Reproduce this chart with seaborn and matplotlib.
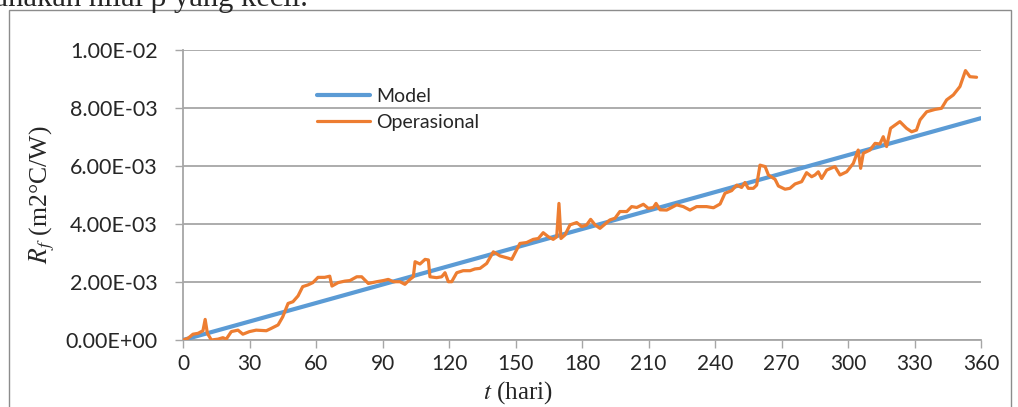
import matplotlib
matplotlib.use("Agg")
import matplotlib.pyplot as plt
import matplotlib.patches as mpatches
from matplotlib.ticker import FuncFormatter
import seaborn as sns
import pandas as pd

# ---- data ----
model_days = [0, 360]
model_rf = [0.0, 7.65e-3]

op_days = [0, 2.3, 4.5, 6.8, 9, 10, 11, 12.8, 15.8, 18, 19.5, 21.8, 24.8, 27, 30, 33, 37.6, 39.8,
           42.9, 45, 47.4, 49.6, 51.9, 54, 56.4, 58.6, 60.9, 63.9, 66.2, 67.2, 70, 73, 75.3, 78.4,
           80.6, 83.6, 87.4, 90.4, 92.6, 94.9, 97.9, 100.1, 102.4, 103.9, 104.7, 106.9, 109.2,
           110.7, 111.4, 114.4, 116.7, 118.2, 119.7, 121.2, 123.5, 126.4, 129.5, 131.7, 134, 137,
           140, 143, 146.8, 148.3, 152, 155, 158, 160.3, 162.5, 164.8, 167, 168.6, 169.6, 170.5,
           172.3, 174.6, 177.6, 179.9, 182.1, 183.9, 185.9, 188.1, 190.4, 192.6, 194.9, 197.1,
           200.2, 202.4, 204.7, 207.7, 209.9, 212.2, 213.4, 215.2, 218.2, 222.7, 225.7, 228.7,
           231.7, 236.2, 239.3, 242.3, 244.5, 247.5, 249.8, 252, 253.5, 255, 257.3, 258.8, 260.3,
           262.6, 264.1, 267.1, 268.6, 271.6, 273.8, 276.1, 279.1, 281.3, 283.6, 285.1, 286.6,
           288.1, 290.4, 294.1, 296.4, 299.4, 302.4, 304.6, 305.7, 306.9, 309.9, 312.2, 314.4,
           315.9, 317.4, 319.2, 321.2, 323.4, 326.4, 328.7, 330.9, 332.5, 335.5, 339.2, 342.2,
           344.5, 347.5, 350.5, 353, 355, 358]
op_rf_e3 = [0.0, 0.06, 0.2, 0.23, 0.32, 0.71, 0.23, 0.0, 0.03, 0.08, 0.03, 0.29, 0.34, 0.2, 0.29,
            0.34, 0.32, 0.4, 0.52, 0.8, 1.26, 1.32, 1.52, 1.84, 1.9, 1.98, 2.16, 2.16, 2.2, 1.86,
            1.98, 2.03, 2.05, 2.18, 2.18, 1.95, 2.01, 2.05, 2.09, 2.01, 2.01, 1.92, 2.09, 2.18,
            2.7, 2.62, 2.78, 2.76, 2.18, 2.15, 2.18, 2.32, 2.01, 2.01, 2.32, 2.39, 2.39, 2.45,
            2.47, 2.64, 3.04, 2.9, 2.82, 2.78, 3.33, 3.36, 3.47, 3.5, 3.7, 3.56, 3.47, 3.56, 4.71,
            3.5, 3.62, 3.97, 4.05, 3.91, 3.97, 4.16, 3.97, 3.85, 4.0, 4.14, 4.2, 4.43, 4.43, 4.6,
            4.57, 4.68, 4.54, 4.57, 4.71, 4.49, 4.48, 4.66, 4.6, 4.48, 4.6, 4.6, 4.56, 4.69, 5.06,
            5.15, 5.34, 5.26, 5.43, 5.23, 5.23, 5.34, 6.03, 5.98, 5.69, 5.54, 5.31, 5.2, 5.23,
            5.38, 5.46, 5.77, 5.63, 5.69, 5.8, 5.57, 5.86, 5.98, 5.69, 5.8, 6.09, 6.55, 5.92, 6.44,
            6.55, 6.78, 6.76, 7.01, 6.67, 7.3, 7.41, 7.53, 7.3, 7.18, 7.24, 7.59, 7.87, 7.95, 7.99,
            8.28, 8.45, 8.74, 9.29, 9.08, 9.06]
op_rf = [v * 1e-3 for v in op_rf_e3]

x_ticks = list(range(0, 361, 30))
y_ticks = [0, 2e-3, 4e-3, 6e-3, 8e-3, 1e-2]

sns.set_style("white")
plt.rcParams["font.family"] = ["Lato", "DejaVu Sans"]
plt.rcParams["mathtext.fontset"] = "stix"

fig = plt.figure(figsize=(10.18, 4.07), dpi=100)
ax = fig.add_axes([183 / 1018, 1 - 340 / 407, (981 - 183) / 1018, (340 - 50) / 407])

# outer frame
fig.patches.append(mpatches.Rectangle((9 / 1018, -0.05), (1011 - 9) / 1018, 1 - 10 / 407 + 0.05,
                                      transform=fig.transFigure, fill=False,
                                      edgecolor="#8c8c8c", linewidth=1.0))

# caption text from the page above the chart (cut off at the top, as in the source)
fig.text(308 / 1018, 1 - 6 / 407, "menggunakan nilai β yang kecil.", ha="right", va="baseline",
         fontsize=22, family="Liberation Serif")

grid_c = "#a6a6a6"
for yv in y_ticks:
    ax.axhline(yv, color=grid_c, linewidth=1.3, zorder=0)

df_model = pd.DataFrame({"t": model_days, "Rf": model_rf})
df_op = pd.DataFrame({"t": op_days, "Rf": op_rf})
sns.lineplot(data=df_model, x="t", y="Rf", ax=ax, color="#5b9bd5", linewidth=3.0,
             label="Model", estimator=None, zorder=3)
sns.lineplot(data=df_op, x="t", y="Rf", ax=ax, color="#ed7d31", linewidth=2.3,
             label="Operasional", estimator=None, sort=False, zorder=4)

ax.set_xlim(0, 360)
ax.set_ylim(0, 0.01)
ax.set_xticks(x_ticks)
ax.set_yticks(y_ticks)
ax.yaxis.set_major_formatter(FuncFormatter(lambda v, p: f"{v:.2E}"))

for s in ["top", "right"]:
    ax.spines[s].set_visible(False)
ax.spines["left"].set_color(grid_c)
ax.spines["bottom"].set_color(grid_c)
ax.spines["left"].set_linewidth(1.3)
ax.spines["bottom"].set_linewidth(1.3)
ax.tick_params(axis="y", direction="out", length=6, width=1.0, color=grid_c, pad=12,
               labelsize=15.5, left=True)
ax.tick_params(axis="x", direction="out", length=6, width=1.0, color=grid_c, pad=4,
               labelsize=15, bottom=True)

ax.set_xlabel("$t$ (hari)", fontsize=18, family="Liberation Serif")
ax.set_ylabel("$R_f$ (m2°C/W)", fontsize=18.5, family="Liberation Serif")
ax.xaxis.set_label_coords((518 - 183) / 798, -(393 - 340) / 290)
ax.yaxis.set_label_coords(-(183 - 42) / 798, 0.5)
ax.xaxis.label.set_va("center")
ax.yaxis.label.set_va("center")

leg = ax.legend(loc="upper left", bbox_to_anchor=(134 / 798, 1 - 38 / 290), frameon=False,
                fontsize=14, handlelength=2.7, handletextpad=0.35, labelspacing=0.45,
                borderpad=0, borderaxespad=0)

fig.savefig("out.png", dpi=100)
